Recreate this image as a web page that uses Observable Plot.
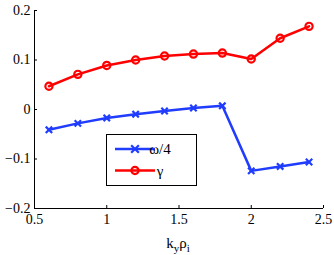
<!DOCTYPE html>
<html>
<head>
<meta charset="utf-8">
<script src="https://cdn.jsdelivr.net/npm/d3@7"></script>
<script src="https://cdn.jsdelivr.net/npm/@observablehq/plot@0.6"></script>
<style>
body { margin: 0; background: #fff; }
#chart { position: relative; width: 334px; height: 255px; }
</style>
</head>
<body>
<div id="chart"></div>
<script>
const ky = [0.6, 0.8, 1.0, 1.2, 1.4, 1.6, 1.8, 2.0, 2.2, 2.4];
const omegaQuarter = [-0.041, -0.028, -0.017, -0.0095, -0.003, 0.003, 0.0075, -0.124, -0.115, -0.106];
const gamma = [0.047, 0.071, 0.089, 0.100, 0.108, 0.112, 0.114, 0.102, 0.144, 0.168];
const xTicks = [0.5, 1, 1.5, 2, 2.5];
const yTicks = [-0.2, -0.1, 0, 0.1, 0.2];
const seriesNames = ["ω/4", "γ"];
const blue = "#1f3cff";
const red = "#ff0000";
const serif = "'Liberation Serif', 'Times New Roman', 'DejaVu Serif', serif";

const omegaData = ky.map((x, i) => ({x, y: omegaQuarter[i]}));
const gammaData = ky.map((x, i) => ({x, y: gamma[i]}));

const plot = Plot.plot({
  width: 334,
  height: 255,
  marginLeft: 34,
  marginRight: 11,
  marginTop: 10,
  marginBottom: 47,
  style: {fontSize: "13px", color: "#000", background: "#fff"},
  x: {domain: [0.5, 2.5]},
  y: {domain: [-0.2, 0.2]},
  marks: [
    Plot.ruleX([0.5], {stroke: "#000", strokeWidth: 1}),
    Plot.ruleY([-0.2], {stroke: "#000", strokeWidth: 1}),
    Plot.axisX({ticks: xTicks, tickSize: -3, tickPadding: 9, tickFormat: d => String(d), label: null, fontSize: 14, fontFamily: serif}),
    Plot.axisY({ticks: yTicks, tickSize: -3, tickPadding: 7, tickFormat: d => d === 0 ? "0" : (d < 0 ? "\u2212" + String(-d) : String(d)), label: null, fontSize: 14, fontFamily: serif}),
    Plot.line(omegaData, {x: "x", y: "y", stroke: blue, strokeWidth: 2.5}),
    Plot.dot(omegaData, {x: "x", y: "y", symbol: "times", r: 3, stroke: blue, strokeWidth: 2.2}),
    Plot.line(gammaData, {x: "x", y: "y", stroke: red, strokeWidth: 2.5}),
    Plot.dot(gammaData, {x: "x", y: "y", symbol: "circle", r: 3.6, stroke: red, strokeWidth: 2.2, fill: "none"})
  ]
});

document.getElementById("chart").appendChild(plot);

const svg = d3.select(plot);
// x-axis label k_y rho_i
const lab = svg.append("text")
  .attr("x", 178).attr("y", 248)
  .attr("text-anchor", "middle")
  .attr("font-size", 15)
  .attr("fill", "#000");
lab.append("tspan").text("k");
lab.append("tspan").attr("font-size", 11).attr("dy", 4).text("y");
lab.append("tspan").attr("dy", -4).text("ρ");
lab.append("tspan").attr("font-size", 11).attr("dy", 4).text("i");

// legend
const lg = svg.append("g");
lg.append("rect").attr("x", 106.5).attr("y", 134.5).attr("width", 90).attr("height", 51)
  .attr("fill", "#fff").attr("stroke", "#000").attr("stroke-width", 1);
const rows = [
  {name: seriesNames[0], color: blue, y: 149, sym: "times"},
  {name: seriesNames[1], color: red, y: 170.5, sym: "circle"}
];
rows.forEach(r => {
  lg.append("line").attr("x1", 115).attr("x2", 155).attr("y1", r.y).attr("y2", r.y)
    .attr("stroke", r.color).attr("stroke-width", 2.5);
  if (r.sym === "circle") {
    lg.append("circle").attr("cx", 135).attr("cy", r.y).attr("r", 3.6)
      .attr("fill", "none").attr("stroke", r.color).attr("stroke-width", 2.2);
  } else {
    lg.append("path").attr("transform", `translate(135,${r.y})`)
      .attr("d", d3.symbol(d3.symbolTimes, 40)())
      .attr("fill", "none").attr("stroke", r.color).attr("stroke-width", 2.2);
  }
  lg.append("text").attr("x", 160).attr("y", r.y + 5).attr("font-size", 15)
    .attr("fill", "#000").text(r.name);
});

svg.selectAll("text").attr("font-family", serif).style("font-family", serif);
</script>
</body>
</html>
